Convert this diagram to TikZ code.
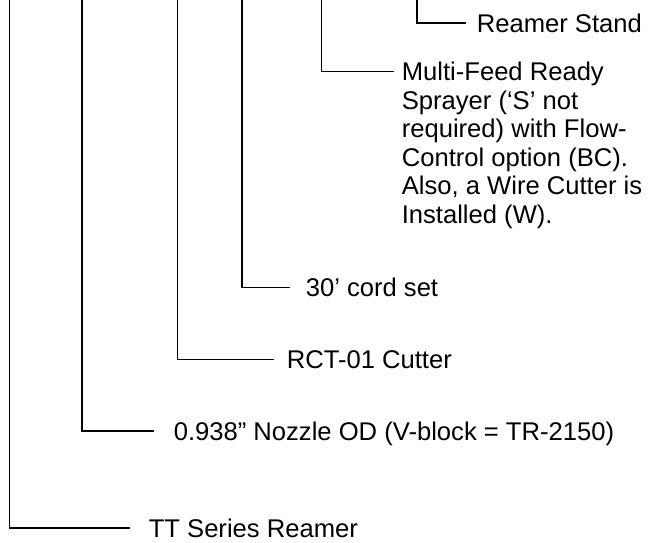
\documentclass[tikz,border=0pt]{standalone}
\usepackage{fontspec}
\setmainfont{Liberation Sans}
\usepackage{tikz}
\newcommand{\lbfont}{\fontsize{19.2}{21.4}\selectfont}

\begin{document}
\begin{tikzpicture}[x=0.75pt, y=-0.75pt, line width=1.2pt,
    lbl/.style={inner sep=0pt, anchor=base west, font=\lbfont, align=left}]
    \useasboundingbox (0,0) rectangle (652,542);
    % reamer stand
    \coordinate (standtop) at (416.7,0);
    \node[lbl] (stand) at (476,32.5) {Reamer Stand};
    \draw (standtop) |- ([shift={(-10,-9.2)}]stand.base west);
    % sprayer option (base = last of six lines)
    \coordinate (spraytop) at (321.3,0);
    \node[lbl] (spray) at (401,223.2) {Multi-Feed Ready\\Sprayer (‘S’ not\\required) with Flow-\\Control option (BC).\\Also, a Wire Cutter is\\Installed (W).};
    \draw (spraytop) |- ([shift={(-7,-151.9)}]spray.base west);
    % cord set
    \coordinate (cordtop) at (241.7,0);
    \node[lbl] (cord) at (305,296.5) {30’ cord set};
    \draw (cordtop) |- ([shift={(-15,-9.2)}]cord.base west);
    % cutter
    \coordinate (cuttop) at (177.3,0);
    \node[lbl] (cut) at (286,368.5) {RCT-01 Cutter};
    \draw (cuttop) |- ([shift={(-12,-9.2)}]cut.base west);
    % nozzle
    \coordinate (nozzletop) at (81.7,0);
    \node[lbl] (nozzle) at (173,440) {0.938” Nozzle OD (V-block = TR-2150)};
    \draw (nozzletop) |- ([shift={(-19,-9.2)}]nozzle.base west);
    % reamer series
    \coordinate (seriestop) at (9.3,0);
    \node[lbl] (series) at (148,537) {TT Series Reamer};
    \draw (seriestop) |- ([shift={(-18,-9.2)}]series.base west);
\end{tikzpicture}
\end{document}
